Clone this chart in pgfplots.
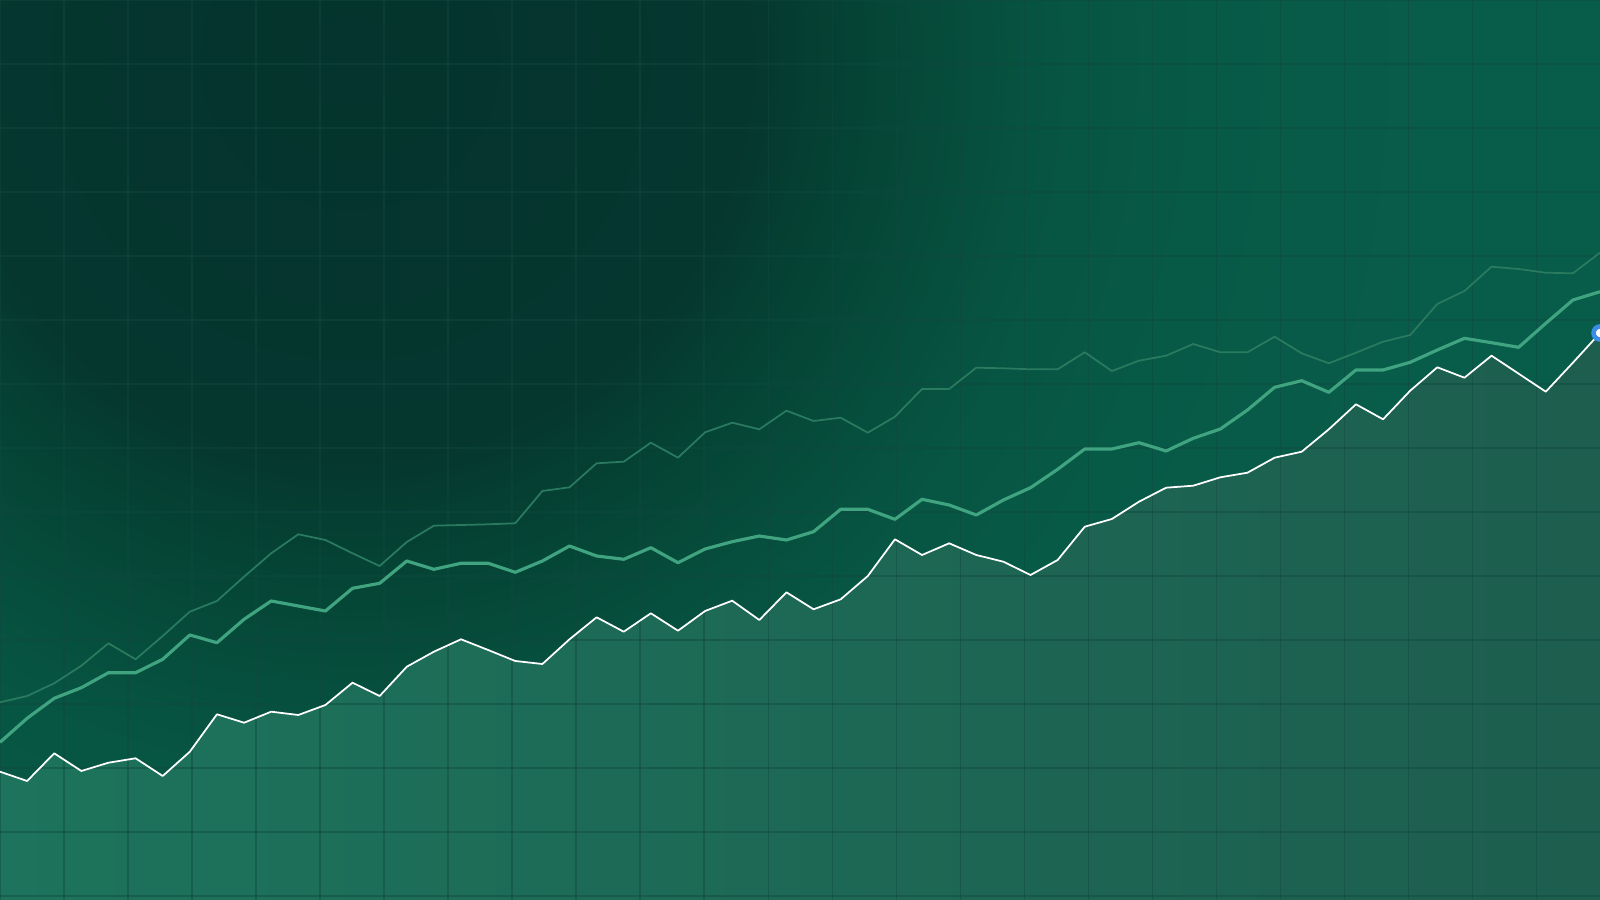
\documentclass[border=0pt]{standalone}
\usepackage{pgfplots}
\usepackage{pgfplotstable}
\pgfplotsset{compat=1.18}

\definecolor{bgA}{HTML}{05332D}
\definecolor{bgB}{HTML}{05372F}
\definecolor{bgC}{HTML}{054334}
\definecolor{bgD}{HTML}{064C3B}
\definecolor{bgE}{HTML}{075442}
\definecolor{bgF}{HTML}{075A46}
\definecolor{bgG}{HTML}{085C4A}
\definecolor{bgH}{HTML}{085E4B}
\definecolor{fillL}{HTML}{1D735B}
\definecolor{fillM}{HTML}{1D6150}
\definecolor{fillR}{HTML}{1D5E4E}
\definecolor{gridc}{HTML}{114840}
\definecolor{midline}{HTML}{3FA47F}
\definecolor{faintline}{HTML}{2A7A5F}
\definecolor{markblue}{HTML}{3A8EEA}

\pgfdeclareradialshading{bgshade}{\pgfpoint{0bp}{0bp}}{%
  color(0bp)=(bgA); color(8bp)=(bgB); color(10bp)=(bgC); color(12bp)=(bgD);
  color(14bp)=(bgE); color(17bp)=(bgF); color(22bp)=(bgG); color(50bp)=(bgH)}

% x: position, w: white line, m: medium line, f: faint line (pixel rows, top = 0)
\pgfplotstableread{
x w m f
0 771.7 742.3 702.3
27.12 781 718.3 696
54.24 753.3 698.3 683.3
81.36 771 687.7 665.7
108.47 762.7 672.7 643.3
135.59 758.3 672.7 659.3
162.71 776 659.3 636
189.83 751.7 635 611.7
216.95 714.3 642.7 601
244.07 722.7 619.3 576.7
271.19 711.7 601 553.3
298.31 715 606 534.3
325.42 705 611 540
352.54 682.7 588.3 553.3
379.66 696 583.3 566
406.78 666.7 561 542
433.90 651.7 569.3 525.7
461.02 639.3 563.3 525
488.14 650 563.3 524.3
515.25 661 572.3 523.3
542.37 664 561 491
569.49 639.3 546 487.3
596.61 617.3 556 463.3
623.73 631.7 559.3 461.7
650.85 613.3 547.7 442.7
677.97 630.7 562.7 457.7
705.08 611 549 432.3
732.20 600.7 541.7 422.7
759.32 620 536 429.3
786.44 592.3 540 410.7
813.56 609.3 531.7 421
840.68 599.3 509.3 417.7
867.80 576 509.3 432.7
894.92 539.3 519.3 416.7
922.03 555 499.3 389
949.15 543.3 505 389
976.27 555 515 367.7
1003.39 561.7 500 368.3
1030.51 575 487.7 369.3
1057.63 560 469.3 369.3
1084.75 526.7 449 352.3
1111.86 519 449 371
1138.98 501.7 442.7 360.7
1166.10 487.7 451 355.7
1193.22 485.7 438.3 344
1220.34 477.3 429 352.3
1247.46 472.7 410 352.3
1274.58 457.7 387.3 336.7
1301.69 451.7 380.7 353.3
1328.81 429.3 392.3 363.3
1355.93 404.3 370 352.7
1383.05 419.3 370 341.7
1410.17 390.7 362.3 335
1437.29 367.3 350 304
1464.41 377.7 338.3 291
1491.53 355.7 342.7 266.7
1518.64 373.7 347.3 269
1545.76 391.7 323.3 272.7
1572.88 362.7 300 273.3
1600 333 291.7 252.7
}\datatable

\pgfplotsset{
  base/.style={
    width=16cm, height=9cm, scale only axis,
    xmin=0, xmax=1600, ymin=0, ymax=900, y dir=reverse,
    clip=true,
  }
}

\begin{document}
\begin{tikzpicture}
\begin{axis}[base,
    axis on top,
    xtick={0,64,...,1600}, ytick={0,64,...,896},
    xticklabels={}, yticklabels={},
    major tick length=0pt,
    tick label style={inner sep=0pt, outer sep=0pt},
    axis line style={draw=none},
    grid=major,
    major grid style={draw=gridc, line width=0.3pt, opacity=0.45},
  ]
  % background glow
  \addplot[draw=none, shade, shading=bgshade] coordinates {
    (-900,-1190) (1600,-1190) (1600,1310) (-900,1310) (-900,-1190)};
  % area under the white series
  \addplot[draw=none, left color=fillL, middle color=fillM, right color=fillR]
    table[x=x, y=w] {\datatable} -- (axis cs:1600,905) -- (axis cs:0,905) -- cycle;
\end{axis}
\begin{axis}[base, hide axis, clip marker paths=true]
  \addplot[faintline, line width=0.5pt, line join=round] table[x=x, y=f] {\datatable};
  \addplot[midline, line width=0.9pt, line join=round] table[x=x, y=m] {\datatable};
  \addplot[white, line width=0.5pt, line join=round] table[x=x, y=w] {\datatable};
  \addplot[only marks, mark=*, mark size=1.85pt,
    mark options={fill=white, draw=markblue, line width=1.3pt}] coordinates {(1600,333)};
\end{axis}
\pgfresetboundingbox
\path[use as bounding box] (current axis.south west) rectangle (current axis.north east);
\end{tikzpicture}
\end{document}
